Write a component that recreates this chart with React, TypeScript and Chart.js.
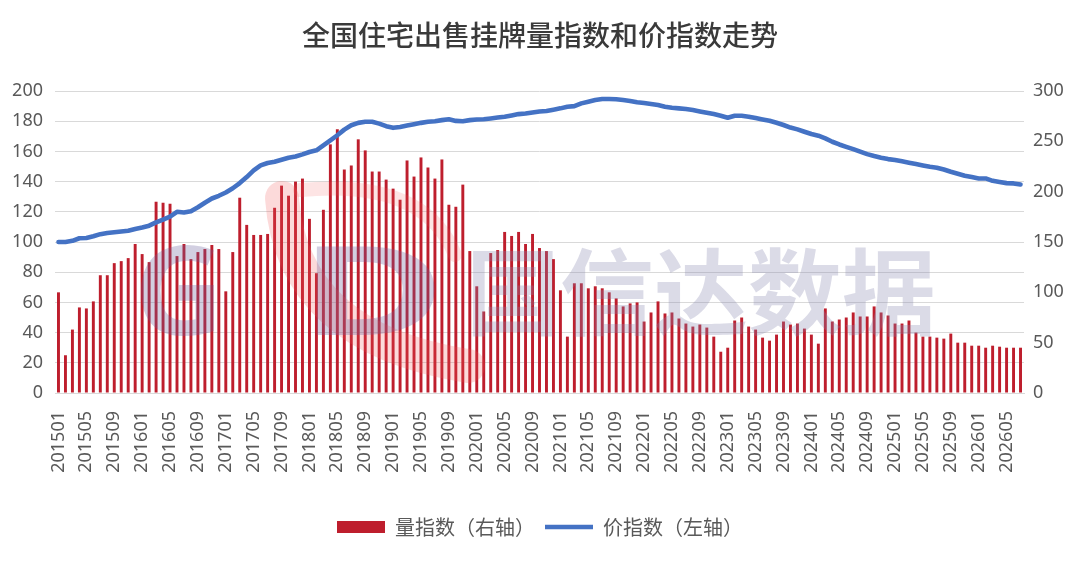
import { useEffect, useRef } from "react"
import { Chart, registerables } from "chart.js"

Chart.register(...registerables)

// months 201501 .. 202607
const months: string[] = []
for (let y = 2015; y <= 2026; y++) {
  for (let m = 1; m <= 12; m++) {
    if (y === 2026 && m > 7) break
    months.push(`${y}${String(m).padStart(2, "0")}`)
  }
}

// 量指数 (right axis)
const volumeIndex = [
  100, 37.5, 63, 85, 84, 91, 117, 117, 129, 131, 134, 148,
  138, 130, 190, 189, 188, 136, 148, 133, 140, 143, 147, 143,
  101, 140, 194, 167, 157, 157, 158, 184, 206, 196, 210, 213,
  173, 119, 182, 247, 262, 222, 226, 252, 241, 220, 220, 212,
  203, 192, 231, 215, 234, 224, 213, 232, 187, 185, 207, 141,
  106, 81, 139, 142, 160, 156, 160, 148, 158, 144, 141, 133,
  102, 56, 109, 109, 104, 106, 104, 100, 94, 86, 89, 90,
  71, 80, 91, 79, 80, 74, 69, 66, 68, 65, 56, 41,
  45, 72, 75, 66, 63, 55, 52, 58, 71, 68, 69, 64,
  58, 49, 84, 71, 73, 75, 80, 76, 76, 86, 80, 77,
  69, 69, 72, 60, 56, 56, 55, 54, 59, 50, 50, 47,
  47, 45, 47, 46, 45, 45, 45,
]

// 价指数 (left axis)
const priceIndex = [
  100, 100, 100.8, 102.5, 102.7, 103.8, 105.2, 106, 106.5, 107, 107.4, 108.6,
  109.6, 110.8, 113, 114.8, 116.8, 120, 119.5, 120.4, 123, 126, 128.8, 130.6,
  132.8, 135.6, 139, 143, 147.4, 150.7, 152.3, 153.2, 154.5, 155.8, 156.6, 158,
  159.6, 160.7, 164, 167.3, 170.7, 174.4, 177.3, 178.9, 179.6, 179.6, 178.4, 176.7,
  175.6, 176.2, 177.1, 178, 178.9, 179.6, 180, 180.7, 181.3, 180.2, 180, 180.7,
  181.1, 181.3, 181.8, 182.4, 182.9, 183.8, 184.7, 185.1, 185.8, 186.4, 186.8, 187.6,
  188.5, 189.6, 190, 191.8, 192.9, 194, 194.7, 194.7, 194.5, 194, 193.4, 192.5,
  192, 191.4, 190.7, 189.6, 188.9, 188.5, 188.1, 187.4, 186.5, 185.6, 184.7, 183.6,
  182.3, 183.6, 183.6, 183, 182.1, 181.2, 180.3, 179, 177.5, 175.8, 174.6, 173,
  171.5, 170.4, 168.6, 166.4, 164.6, 163, 161.5, 159.8, 158.2, 156.9, 155.8, 154.9,
  154.3, 153.4, 152.5, 151.6, 150.7, 149.8, 149.2, 148, 146.5, 145.2, 143.9, 143,
  142.1, 142.1, 140.5, 139.7, 139, 138.8, 138.1,
]

const TITLE = "全国住宅出售挂牌量指数和价指数走势"
const VOLUME_LABEL = "量指数（右轴）"
const PRICE_LABEL = "价指数（左轴）"

const BAR_RED = "#BE1E2D"
const LINE_BLUE = "#4472C4"
const TICK_GREY = "#595959"

// faint company watermark drawn over the plot
const watermark = {
  id: "watermark",
  afterDatasetsDraw(chart: Chart) {
    const { ctx } = chart
    ctx.save()
    ctx.lineCap = "round"
    ctx.strokeStyle = "rgba(240, 85, 85, 0.22)"
    ctx.lineWidth = 34
    ctx.beginPath()
    ctx.moveTo(282, 198)
    ctx.quadraticCurveTo(292, 338, 468, 366)
    ctx.stroke()
    ctx.lineWidth = 14
    ctx.strokeStyle = "rgba(240, 85, 85, 0.16)"
    ctx.beginPath()
    ctx.moveTo(300, 190)
    ctx.quadraticCurveTo(425, 178, 455, 255)
    ctx.stroke()

    ctx.fillStyle = "rgba(105, 95, 155, 0.30)"
    ctx.textBaseline = "alphabetic"
    ctx.font = "bold 124px 'Noto Sans', sans-serif"
    ctx.fillText("G", 134, 335)
    ctx.save()
    ctx.translate(300, 335)
    ctx.scale(1.6, 1)
    ctx.fillText("D", 0, 0)
    ctx.restore()

    ctx.fillStyle = "rgba(135, 135, 175, 0.30)"
    ctx.font = "bold 94px 'Noto Sans CJK SC', sans-serif"
    ctx.fillText("国信达数据", 466, 328)
    ctx.restore()
  },
}

export default function App() {
  const chartRef = useRef<HTMLCanvasElement>(null)
  const chartInstance = useRef<Chart | null>(null)

  useEffect(() => {
    document.body.style.margin = "0"
    if (!chartRef.current) return

    if (chartInstance.current) {
      chartInstance.current.destroy()
    }

    const ctx = chartRef.current.getContext("2d")
    if (!ctx) return

    Chart.defaults.font.family = "'Noto Sans', 'Noto Sans CJK SC', sans-serif"
    Chart.defaults.color = TICK_GREY

    chartInstance.current = new Chart(ctx, {
      type: "bar",
      data: {
        labels: months,
        datasets: [
          {
            type: "bar",
            label: VOLUME_LABEL,
            data: volumeIndex,
            yAxisID: "y1",
            backgroundColor: BAR_RED,
            borderWidth: 0,
            barPercentage: 0.42,
            categoryPercentage: 1,
            pointStyle: "rect",
            order: 2,
          },
          {
            type: "line",
            label: PRICE_LABEL,
            data: priceIndex,
            yAxisID: "y",
            borderColor: LINE_BLUE,
            backgroundColor: LINE_BLUE,
            borderWidth: 4.6,
            borderCapStyle: "round",
            borderJoinStyle: "round",
            pointRadius: 0,
            pointStyle: "line",
            tension: 0,
            order: 1,
          },
        ],
      },
      options: {
        responsive: true,
        maintainAspectRatio: false,
        animation: false,
        layout: {
          padding: { top: 0, left: 0, right: 0, bottom: 14 },
        },
        plugins: {
          title: {
            display: true,
            text: TITLE,
            color: "#3A3A3A",
            font: { size: 28, weight: 500, family: "'Noto Sans CJK SC', serif" },
            padding: { top: 19, bottom: 38.4 },
          },
          legend: {
            position: "bottom",
            labels: {
              usePointStyle: true,
              pointStyleWidth: 48,
              boxHeight: 12,
              padding: 10,
              color: TICK_GREY,
              font: { size: 20, family: "'Noto Sans CJK SC', sans-serif" },
              sort: (a, b) => (a.datasetIndex ?? 0) - (b.datasetIndex ?? 0),
            },
          },
          tooltip: { enabled: false },
        },
        scales: {
          x: {
            grid: { display: false },
            border: { display: true, color: "#D9D9D9" },
            ticks: {
              autoSkip: false,
              minRotation: 90,
              maxRotation: 90,
              padding: 10,
              color: TICK_GREY,
              font: { size: 18 },
              callback: (_value, index) => (index % 4 === 0 ? months[index] : ""),
            },
            afterFit: (scale) => {
              scale.height = 114
            },
          },
          y: {
            position: "left",
            min: 0,
            max: 200,
            ticks: { stepSize: 20, padding: 12, color: TICK_GREY, font: { size: 18 } },
            grid: { color: "#D9D9D9", drawTicks: false },
            border: { display: false },
            afterFit: (scale) => {
              scale.width = 55
            },
          },
          y1: {
            position: "right",
            min: 0,
            max: 300,
            ticks: { stepSize: 50, padding: 9, color: TICK_GREY, font: { size: 18 } },
            grid: { drawOnChartArea: false, drawTicks: false },
            border: { display: false },
            afterFit: (scale) => {
              scale.width = 56
            },
          },
        },
      },
      plugins: [watermark],
    })

    return () => {
      if (chartInstance.current) {
        chartInstance.current.destroy()
        chartInstance.current = null
      }
    }
  }, [])

  return (
    <div style={{ width: 1080, height: 561, position: "relative", background: "#fff" }}>
      <canvas ref={chartRef} />
    </div>
  )
}
